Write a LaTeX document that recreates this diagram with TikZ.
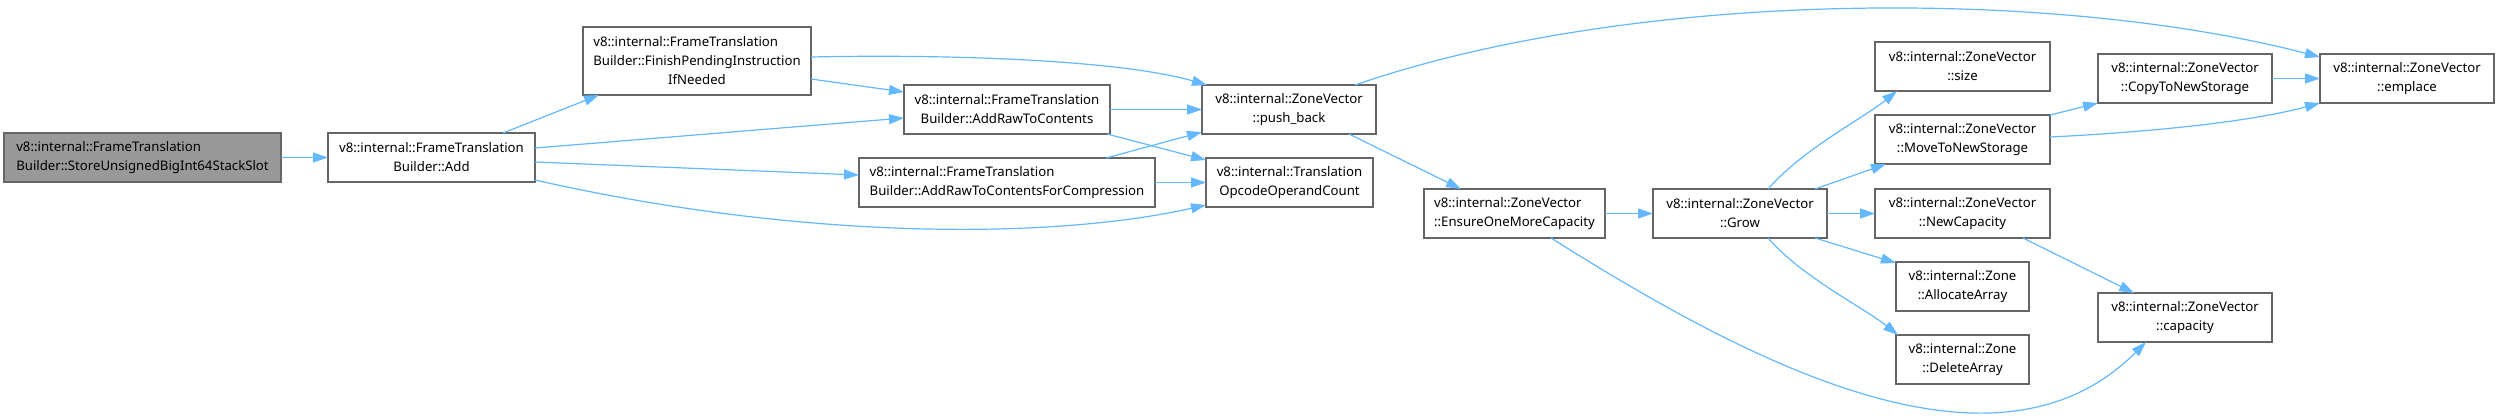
\documentclass[tikz,border=0pt]{standalone}
\usepackage{fontspec}
\setmainfont{Noto Sans}
\usepackage{calc}
\usetikzlibrary{arrows.meta,calc}
\definecolor{edgeblue}{HTML}{63B8FF}
\definecolor{boxline}{HTML}{666666}
\definecolor{startfill}{HTML}{999999}
\tikzset{
  fn/.style={draw=boxline, line width=1.2pt, fill=white, inner sep=0pt, outer sep=0pt,
    minimum height=49pt, font=\fontsize{13.2}{19}\selectfont, align=center},
  fnl/.style={fn, align=left},
  startbox/.style={fnl, fill=startfill},
  call/.style={draw=edgeblue, line width=1.2pt, -{Triangle[length=15pt,width=10pt]}},
}
\begin{document}
\begin{tikzpicture}[x=1pt,y=-1pt]
\useasboundingbox (0,0) rectangle (2496,416);
% nodes
\node[startbox, minimum width=277pt] (start) at (142.5,157.5) {v8::internal::FrameTranslation\\Builder::StoreUnsignedBigInt64StackSlot};
\node[fn, minimum width=207pt] (add) at (431.5,157.5) {v8::internal::FrameTranslation\\Builder::Add};
\node[fnl, minimum width=228pt, minimum height=68pt] (fp) at (697,61) {v8::internal::FrameTranslation\\Builder::FinishPendingInstruction\\\makebox[\widthof{Builder::FinishPendingInstruction}][c]{IfNeeded}};
\node[fn, minimum width=206pt] (arc) at (1007,109.5) {v8::internal::FrameTranslation\\Builder::AddRawToContents};
\node[fnl, minimum width=296pt] (arcc) at (1007,182.5) {v8::internal::FrameTranslation\\Builder::AddRawToContentsForCompression};
\node[fn, minimum width=174pt] (pb) at (1289,109.5) {v8::internal::ZoneVector\\::push\_back};
\node[fn, minimum width=167pt] (opc) at (1289.5,182.5) {v8::internal::Translation\\OpcodeOperandCount};
\node[fnl, minimum width=181pt] (eomc) at (1514.5,213.5) {v8::internal::ZoneVector\\::EnsureOneMoreCapacity};
\node[fn, minimum width=174pt] (grow) at (1740,213.5) {v8::internal::ZoneVector\\::Grow};
\node[fn, minimum width=175pt] (size) at (1962.5,66.5) {v8::internal::ZoneVector\\::size};
\node[fn, minimum width=175pt] (mtns) at (1962.5,139.5) {v8::internal::ZoneVector\\::MoveToNewStorage};
\node[fn, minimum width=175pt] (newcap) at (1962.5,213.5) {v8::internal::ZoneVector\\::NewCapacity};
\node[fn, minimum width=133pt] (alloc) at (1962.5,286.5) {v8::internal::Zone\\::AllocateArray};
\node[fn, minimum width=133pt] (del) at (1962.5,359.5) {v8::internal::Zone\\::DeleteArray};
\node[fn, minimum width=174pt] (copy) at (2185,78.5) {v8::internal::ZoneVector\\::CopyToNewStorage};
\node[fn, minimum width=174pt] (cap) at (2185,317.5) {v8::internal::ZoneVector\\::capacity};
\node[fn, minimum width=174pt] (emp) at (2407,78.5) {v8::internal::ZoneVector\\::emplace};
% edges
\draw[call] (start) -- (add);
\draw[call] ($(add.north west)+(175,0)$) -- ($(fp.south west)+(16,0)$);
\draw[call] ($(add.north east)+(0,15)$) -- ($(arc.north west)+(0,33)$);
\draw[call] ($(add.north east)+(0,29)$) -- ($(arcc.north west)+(0,17)$);
\draw[call] ($(add.south east)+(0,-2)$) .. controls +(265,60) and +(-156,35) .. ($(opc.south west)+(0,-2)$);
\draw[call] ($(fp.north east)+(0,30)$) .. controls +(139,-3) and +(-87,-25) .. ($(pb.north west)+(5,0)$);
\draw[call] ($(fp.north east)+(0,52)$) -- ($(arc.north west)+(0,7)$);
\draw[call] (arc) -- (pb);
\draw[call] ($(arc.south east)+(-3,0)$) -- ($(opc.north west)+(0,2)$);
\draw[call] ($(arcc.north east)+(-49,0)$) -- ($(pb.south west)+(0,-2)$);
\draw[call] (arcc) -- (opc);
\draw[call] ($(pb.north east)+(-21,0)$) .. controls +(275,-95) and +(-270,-70) .. ($(emp.north west)+(0,3)$);
\draw[call] ($(pb.south east)+(-27,0)$) -- ($(eomc.north west)+(37,0)$);
\draw[call] (eomc) -- (grow);
\draw[call] ($(eomc.south west)+(127,0)$) .. controls +(200,126) and +(-150,150) .. ($(cap.south west)+(48,0)$);
\draw[call] ($(grow.north west)+(115,0)$) .. controls +(35,-40) and +(-35,28) .. ($(size.south west)+(22,0)$);
\draw[call] ($(grow.north east)+(-12,0)$) -- ($(mtns.south west)+(11,0)$);
\draw[call] (grow) -- (newcap);
\draw[call] ($(grow.south east)+(-12,0)$) -- ($(alloc.north west)+(0,1)$);
\draw[call] ($(grow.south west)+(115,0)$) .. controls +(35,40) and +(-35,-28) .. ($(del.north west)+(2,0)$);
\draw[call] (mtns.north east) -- (copy.south west);
\draw[call] ($(mtns.north east)+(0,22)$) .. controls +(100,-5) and +(-70,19) .. (emp.south west);
\draw[call] (copy) -- (emp);
\draw[call] ($(newcap.south east)+(-27,0)$) -- ($(cap.north west)+(36,0)$);
\end{tikzpicture}
\end{document}
